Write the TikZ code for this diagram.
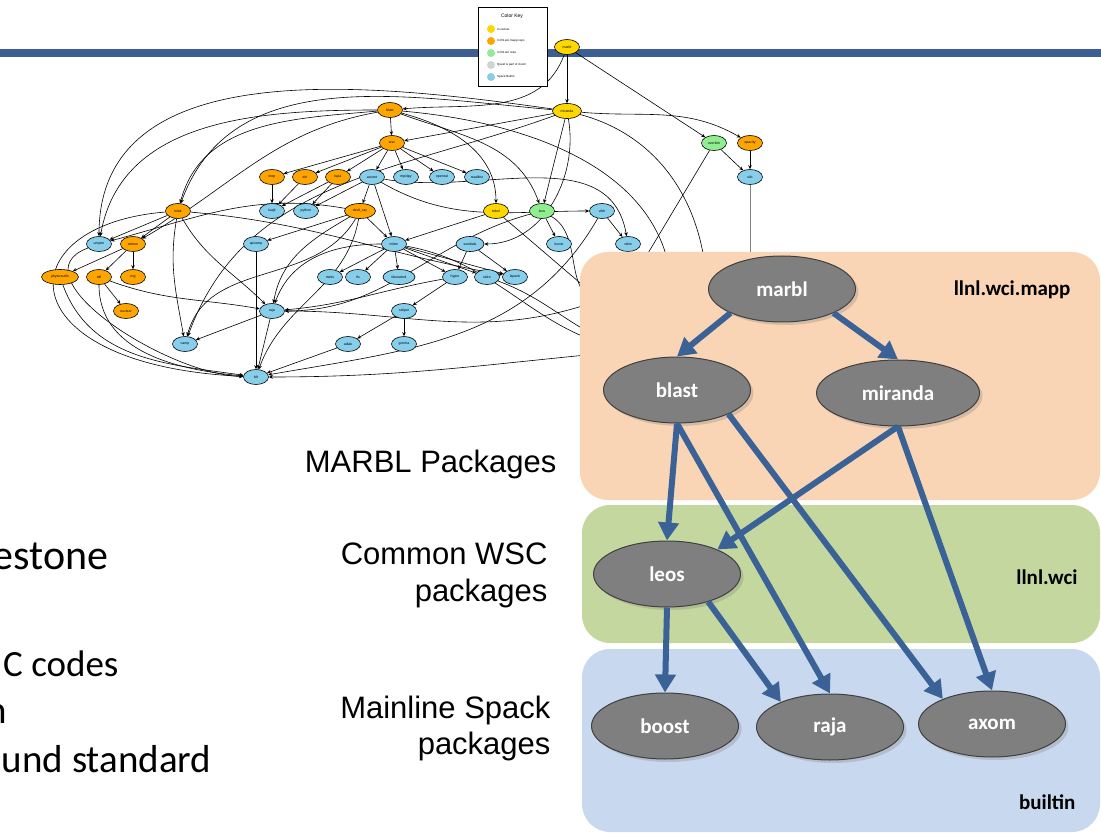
\documentclass[tikz,border=0pt]{standalone}
\usepackage{fontspec}
\setmainfont{Liberation Sans}
\newfontfamily\calibri{Carlito}
\usetikzlibrary{shapes.geometric,arrows.meta,shadows}

\definecolor{bandblue}{HTML}{3C5E94}
\definecolor{revyellow}{HTML}{FFD700}
\definecolor{mappor}{HTML}{FFA500}
\definecolor{wcigreen}{HTML}{90EE90}
\definecolor{questgray}{HTML}{D3D3D3}
\definecolor{spkblue}{HTML}{87CEEB}
\definecolor{mappbg}{HTML}{FAD5B5}
\definecolor{wcibg}{HTML}{C4D79E}
\definecolor{builtbg}{HTML}{C8D8EF}
\definecolor{pkggray}{HTML}{7F7F7F}
\definecolor{arrowblue}{HTML}{3A6297}

\pgfdeclarelayer{edges}
\pgfsetlayers{edges,main}

\tikzset{
  pkg/.style={ellipse, draw=black, line width=0.6pt, minimum width=25pt, minimum height=15pt,
    inner sep=0pt, font=\fontsize{3.5}{4}\selectfont},
  rev/.style={pkg, fill=revyellow},
  mapp/.style={pkg, fill=mappor},
  wci/.style={pkg, fill=wcigreen},
  spk/.style={pkg, fill=spkblue},
  dep/.style={line width=0.6pt, -{Stealth[length=4pt,width=3.5pt]}},
  bignode/.style={ellipse, fill=pkggray, draw=black!75, line width=1pt, minimum width=147pt,
    minimum height=66pt, text=white, font=\calibri\bfseries\fontsize{21}{24}\selectfont,
    drop shadow={shadow xshift=3pt,shadow yshift=-3pt,opacity=0.3}},
  bigdep/.style={draw=arrowblue, fill=arrowblue, line width=6pt, -{Triangle[length=18pt,width=20pt]}},
  panel/.style={rounded corners=28pt},
  panellabel/.style={anchor=east, font=\calibri\bfseries\fontsize{21}{24}\selectfont},
  pkglabel/.style={anchor=base east, font=\fontsize{31}{37}\selectfont},
  slidetext/.style={anchor=base east, font=\calibri\fontsize{39}{46}\selectfont},
  keyitem/.style={anchor=west, font=\fontsize{3}{3.5}\selectfont, inner sep=0pt}
}

\begin{document}
\begin{tikzpicture}[x=1pt,y=1pt]
  \useasboundingbox (0,0) rectangle (1101,-834);

  % small spack graph
  \node[rev] (marbl) at (567,-47) {marbl};
  \node[mapp] (blast) at (390,-110) {blast};
  \node[rev, minimum width=29pt] (miranda) at (567,-111) {miranda};
  \node[mapp] (wsc) at (392,-143) {wsc};
  \node[wci] (overlink) at (714,-143) {overlink};
  \node[mapp] (opacity) at (750,-143) {opacity};
  \node[spk] (silo) at (750,-177) {silo};
  \node[mapp] (inep) at (272,-177) {inep};
  \node[mapp] (eiri) at (305,-177) {eiri};
  \node[mapp] (lupa) at (338,-177) {lupa};
  \node[spk] (ascent) at (372,-177) {ascent};
  \node[spk] (mpi4py) at (406,-177) {mpi4py};
  \node[spk] (openssl) at (442,-177) {openssl};
  \node[spk] (readline) at (477,-177) {readline};
  \node[spk] (luajit) at (272,-211) {luajit};
  \node[spk] (python) at (306,-211) {python};
  \node[mapp, minimum width=31pt] (devilray) at (360,-211) {devil\_ray};
  \node[rev] (tribol) at (496,-211) {tribol};
  \node[wci] (leos) at (542,-211) {leos};
  \node[spk] (vtkh) at (602,-211) {vtkh};
  \node[mapp] (lelak) at (178,-211) {lelak};
  \node[spk] (umpire) at (99,-244) {umpire};
  \node[mapp] (selene) at (133,-244) {selene};
  \node[spk] (apcomp) at (256,-244) {apcomp};
  \node[spk] (mfem) at (394,-244) {mfem};
  \node[spk, minimum width=28pt] (sundials) at (470,-244) {sundials};
  \node[spk] (boost) at (559,-244) {boost};
  \node[spk] (vtkm) at (628,-244) {vtkm};
  \node[mapp, minimum width=37pt] (physicsutils) at (60,-277) {physicsutils};
  \node[mapp] (tdf) at (99,-277) {tdf};
  \node[mapp] (rng) at (133,-277) {rng};
  \node[spk] (metis) at (330,-277) {metis};
  \node[spk] (tls) at (358,-277) {tls};
  \node[spk, minimum width=32pt] (libunwind) at (399,-277) {libunwind};
  \node[spk] (hypre) at (455,-277) {hypre};
  \node[spk] (sidre) at (487,-277) {sidre};
  \node[spk] (lapack) at (515,-277) {lapack};
  \node[mapp] (nuclear) at (126,-311) {nuclear};
  \node[spk] (raja) at (272,-311) {raja};
  \node[spk] (caliper) at (404,-311) {caliper};
  \node[spk] (camp) at (185,-344) {camp};
  \node[spk] (adiak) at (348,-344) {adiak};
  \node[spk] (gotcha) at (404,-344) {gotcha};
  \node[spk] (blt) at (256,-377) {blt};
  % ends that run under the mapp panel
  \coordinate (hidA) at (600,-300);
  \coordinate (hidB) at (640,-350);
  \coordinate (hidC) at (620,-300);
  \coordinate (hidD) at (672,-300);
  \coordinate (hidE) at (707,-300);
  \coordinate (hidS) at (750,-300);

  % color key
  \node[draw, fill=white, line width=0.8pt, minimum width=69pt, minimum height=79pt, anchor=north west] (key) at (478,-7) {};
  \node[font=\fontsize{5}{6}\selectfont] (keytitle) at (512,-16) {Color Key};
  \foreach \c/\t [count=\i] in {revyellow/In review, mappor/In llnl.wci.mapp repo, wcigreen/In llnl.wci repo,
      questgray/Quest is part of Axom, spkblue/Spack Builtin} {
    \node[circle, fill=\c, minimum size=8pt, inner sep=0pt] (kdot\i) at (491,-17-12*\i) {};
    \node[keyitem] (ktext\i) at (497,-17-12*\i) {\t};
  }

  \begin{pgfonlayer}{edges}
    \fill[white] (0,0) rectangle (1101,-834);
    \fill[bandblue] (0,-49) rectangle (1101,-57);
    \draw[dep] (marbl) to[out=-110,in=5] (blast);
    \draw[dep] (marbl) -- (miranda);
    \draw[dep] (marbl) -- (overlink);
    \draw[dep] (miranda) to[out=-5,in=150] (opacity);
    \draw[dep] (blast) -- (wsc);
    \draw[dep] (miranda) -- (wsc);
    \draw[dep] (blast) to[out=185,in=75] (lelak);
    \draw[dep] (blast) to[out=180,in=80] (umpire);
    \draw[dep] (miranda) to[out=175,in=70] (lelak);
    \draw[dep] (miranda) to[out=172,in=90] (umpire);
    \draw[dep] (blast) to[out=190,in=30] (selene);
    \draw[dep] (blast) to[out=-15,in=90] (tribol);
    \draw[dep] (blast) to[out=-20,in=110] (leos);
    \draw[dep] (miranda) -- (leos);
    \draw[dep] (miranda) to[out=-80,in=0] (sundials);
    \draw[dep] (miranda) to[out=200,in=70] (camp);
    \draw[dep] (blast) to[out=-5,in=90] (hidD);
    \draw[dep] (miranda) to[out=-15,in=90] (hidE);
    \foreach \t in {inep,eiri,lupa,ascent,mpi4py,openssl,readline}
      \draw[dep] (wsc) -- (\t);
    \draw[dep] (inep) -- (luajit);
    \draw[dep] (eiri) -- (luajit);
    \draw[dep] (lupa) -- (luajit);
    \draw[dep] (lupa) -- (python);
    \draw[dep] (ascent) -- (python);
    \draw[dep] (ascent) -- (devilray);
    \draw[dep] (ascent) -- (mfem);
    \draw[dep] (ascent) to[out=-30,in=180] (vtkh);
    \draw[dep] (ascent) to[out=-10,in=100] (vtkm);
    \draw[dep] (devilray) -- (mfem);
    \draw[dep] (devilray) -- (apcomp);
    \draw[dep] (devilray) to[out=-150,in=80] (raja);
    \draw[dep] (devilray) to[out=-120,in=75] (camp);
    \draw[dep] (devilray) to[out=170,in=15] (umpire);
    \draw[dep] (devilray) to[out=-100,in=70] (blt);
    \draw[dep] (tribol) -- (mfem);
    \draw[dep] (tribol) -- (hidA);
    \draw[dep] (leos) -- (boost);
    \draw[dep] (leos) to[out=195,in=0] (raja);
    \draw[dep] (leos) to[out=-30,in=170] (hidA);
    \draw[dep] (vtkh) -- (vtkm);
    \draw[dep] (vtkh) to[out=-120,in=10] (blt);
    \draw[dep] (lelak) -- (umpire);
    \draw[dep] (lelak) -- (selene);
    \draw[dep] (lelak) to[out=-60,in=135] (raja);
    \draw[dep] (lelak) to[out=-100,in=100] (camp);
    \draw[dep] (lelak) to[out=-5,in=170] (lapack);
    \draw[dep] (lelak) .. controls (5,-225) and (5,-365) .. (blt);
    \draw[dep] (umpire) to[out=200,in=178] (blt);
    \draw[dep] (selene) -- (physicsutils);
    \draw[dep] (selene) -- (tdf);
    \draw[dep] (selene) -- (rng);
    \draw[dep] (tdf) -- (nuclear);
    \draw[dep] (tdf) to[out=-20,in=170] (raja);
    \draw[dep] (tdf) to[out=-90,in=175] (blt);
    \draw[dep] (physicsutils) to[out=-70,in=172] (blt);
    \draw[dep] (apcomp) -- (blt);
    \foreach \t in {metis,tls,libunwind,hypre,sidre,lapack}
      \draw[dep] (mfem) -- (\t);
    \draw[dep] (mfem) to[out=180,in=70] (raja);
    \draw[dep] (mfem) to[out=-10,in=175] (hidB);
    \draw[dep] (sundials) -- (hypre);
    \draw[dep] (sundials) -- (lapack);
    \draw[dep] (hypre) -- (caliper);
    \draw[dep] (hypre) to[out=190,in=5] (raja);
    \draw[dep] (caliper) -- (adiak);
    \draw[dep] (caliper) -- (gotcha);
    \draw[dep] (adiak) -- (blt);
    \draw[dep] (raja) -- (camp);
    \draw[dep] (raja) -- (blt);
    \draw[dep] (sidre) to[out=-20,in=170] (hidB);
    \draw[dep] (hidB) to[out=185,in=0] (blt);
    \draw[dep] (hidA) to[out=200,in=0] (raja);
    \draw[dep] (overlink) -- (silo);
    \draw[dep] (opacity) -- (silo);
    \draw[dep] (overlink) -- (hidC);
    \draw[gray, line width=0.8pt] (silo) -- (hidS);
  \end{pgfonlayer}

  % repo panels
  \fill[mappbg, panel] (580,-252) rectangle (1100,-500);
  \fill[wcibg, panel] (582,-505) rectangle (1100,-643);
  \fill[builtbg, panel] (582,-649) rectangle (1100,-832);
  \node[panellabel] (mapplabel) at (1074,-290) {llnl.wci.mapp};
  \node[panellabel] (wcilabel) at (1081,-577) {llnl.wci};
  \node[panellabel] (builtlabel) at (1079,-802) {builtin};

  \node[bignode] (bmarbl) at (782,-289) {marbl};
  \node[bignode] (bblast) at (677,-390) {blast};
  \node[bignode, minimum width=163pt] (bmiranda) at (898,-393) {miranda};
  \node[bignode] (bleos) at (667,-574) {leos};
  \node[bignode] (bboost) at (665,-726) {boost};
  \node[bignode] (braja) at (830,-727) {raja};
  \node[bignode] (baxom) at (992,-724) {axom};

  \draw[bigdep] (bmarbl.205) -- (bblast.north);
  \draw[bigdep] (bmarbl.-25) -- (bmiranda.north);
  \draw[bigdep] (bblast.south) -- (bleos.north);
  \draw[bigdep] (bblast.south) -- (braja.north);
  \draw[bigdep] (bblast.-25) -- (baxom.153);
  \draw[bigdep] (bmiranda.south) -- (bleos.26);
  \draw[bigdep] (bmiranda.south) -- (baxom.north);
  \draw[bigdep] (bleos.south) -- (bboost.north);
  \draw[bigdep] (bleos.-34) -- (braja.153);

  % captions left of the panels
  \node[pkglabel] (capmarbl) at (560,-472) {MARBL Packages};
  \node[pkglabel] (capwci) at (551,-564) {Common WSC};
  \node[pkglabel] (capwcib) at (551,-601) {packages};
  \node[pkglabel] (capspack) at (554,-718) {Mainline Spack};
  \node[pkglabel] (capspackb) at (554,-754) {packages};

  % slide text cut off at the left
  \node[slidetext, font=\calibri\fontsize{42}{48}\selectfont] (slide1) at (112,-569) {estone};
  \node[slidetext, font=\calibri\fontsize{37}{44}\selectfont] (slide2) at (122,-676) {C codes};
  \node[slidetext] (slide3) at (11,-723) {n};
  \node[slidetext] (slide4) at (215,-772) {und standard};
\end{tikzpicture}
\end{document}
